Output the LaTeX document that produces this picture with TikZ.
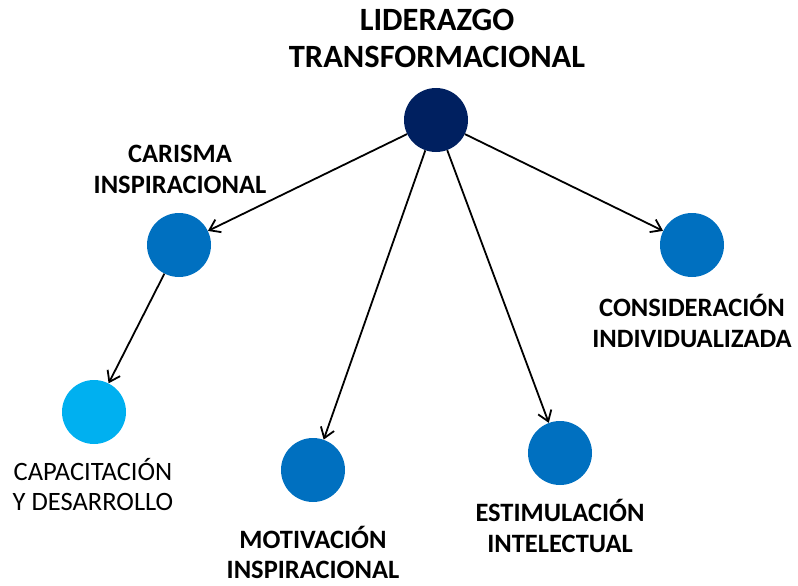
\documentclass[tikz,border=0pt]{standalone}
\usepackage{fontspec}
\setmainfont{Carlito}
\usetikzlibrary{arrows.meta}
\definecolor{Navy}{HTML}{002060}
\definecolor{MBlue}{HTML}{0070C0}
\definecolor{LBlue}{HTML}{00B0F0}

\begin{document}
\begin{tikzpicture}[x=1pt, y=-1pt, >={Straight Barb[length=10pt, width=14pt]},
  dot/.style={circle, minimum size=64pt, inner sep=0pt},
  lbl/.style={align=center, inner sep=1pt, font=\fontsize{26.5}{31}\selectfont\bfseries},
  link/.style={->, line width=1.8pt}]
  \useasboundingbox (0,0) rectangle (798,586);
  % circles
  \node[dot, fill=Navy]  (root)          at (436,120) {};
  \node[dot, fill=MBlue] (carisma)       at (179,245) {};
  \node[dot, fill=LBlue] (capacitacion)  at (94,412)  {};
  \node[dot, fill=MBlue] (motivacion)    at (313,470) {};
  \node[dot, fill=MBlue] (estimulacion)  at (560,453) {};
  \node[dot, fill=MBlue] (consideracion) at (692,245) {};
  % labels
  \node[lbl, font=\fontsize{32.5}{37}\selectfont\bfseries] (rootlbl) at (437,38) {LIDERAZGO\\TRANSFORMACIONAL};
  \node[lbl] (carismalbl) at (180,169) {CARISMA\\INSPIRACIONAL};
  \node[lbl, font=\fontsize{26.5}{30}\selectfont] (capacitacionlbl) at (93,485) {CAPACITACIÓN\\Y DESARROLLO};
  \node[lbl, font=\fontsize{26.5}{30}\selectfont\bfseries] (motivacionlbl) at (313,552) {MOTIVACIÓN\\INSPIRACIONAL};
  \node[lbl] (estimulacionlbl) at (560,526) {ESTIMULACIÓN\\INTELECTUAL};
  \node[lbl] (consideracionlbl) at (692,321) {CONSIDERACIÓN\\INDIVIDUALIZADA};
  % arrows
  \foreach \t in {carisma, motivacion, estimulacion, consideracion}
    \draw[link] (root) -- (\t);
  \draw[link] (carisma) -- (capacitacion);
\end{tikzpicture}
\end{document}
